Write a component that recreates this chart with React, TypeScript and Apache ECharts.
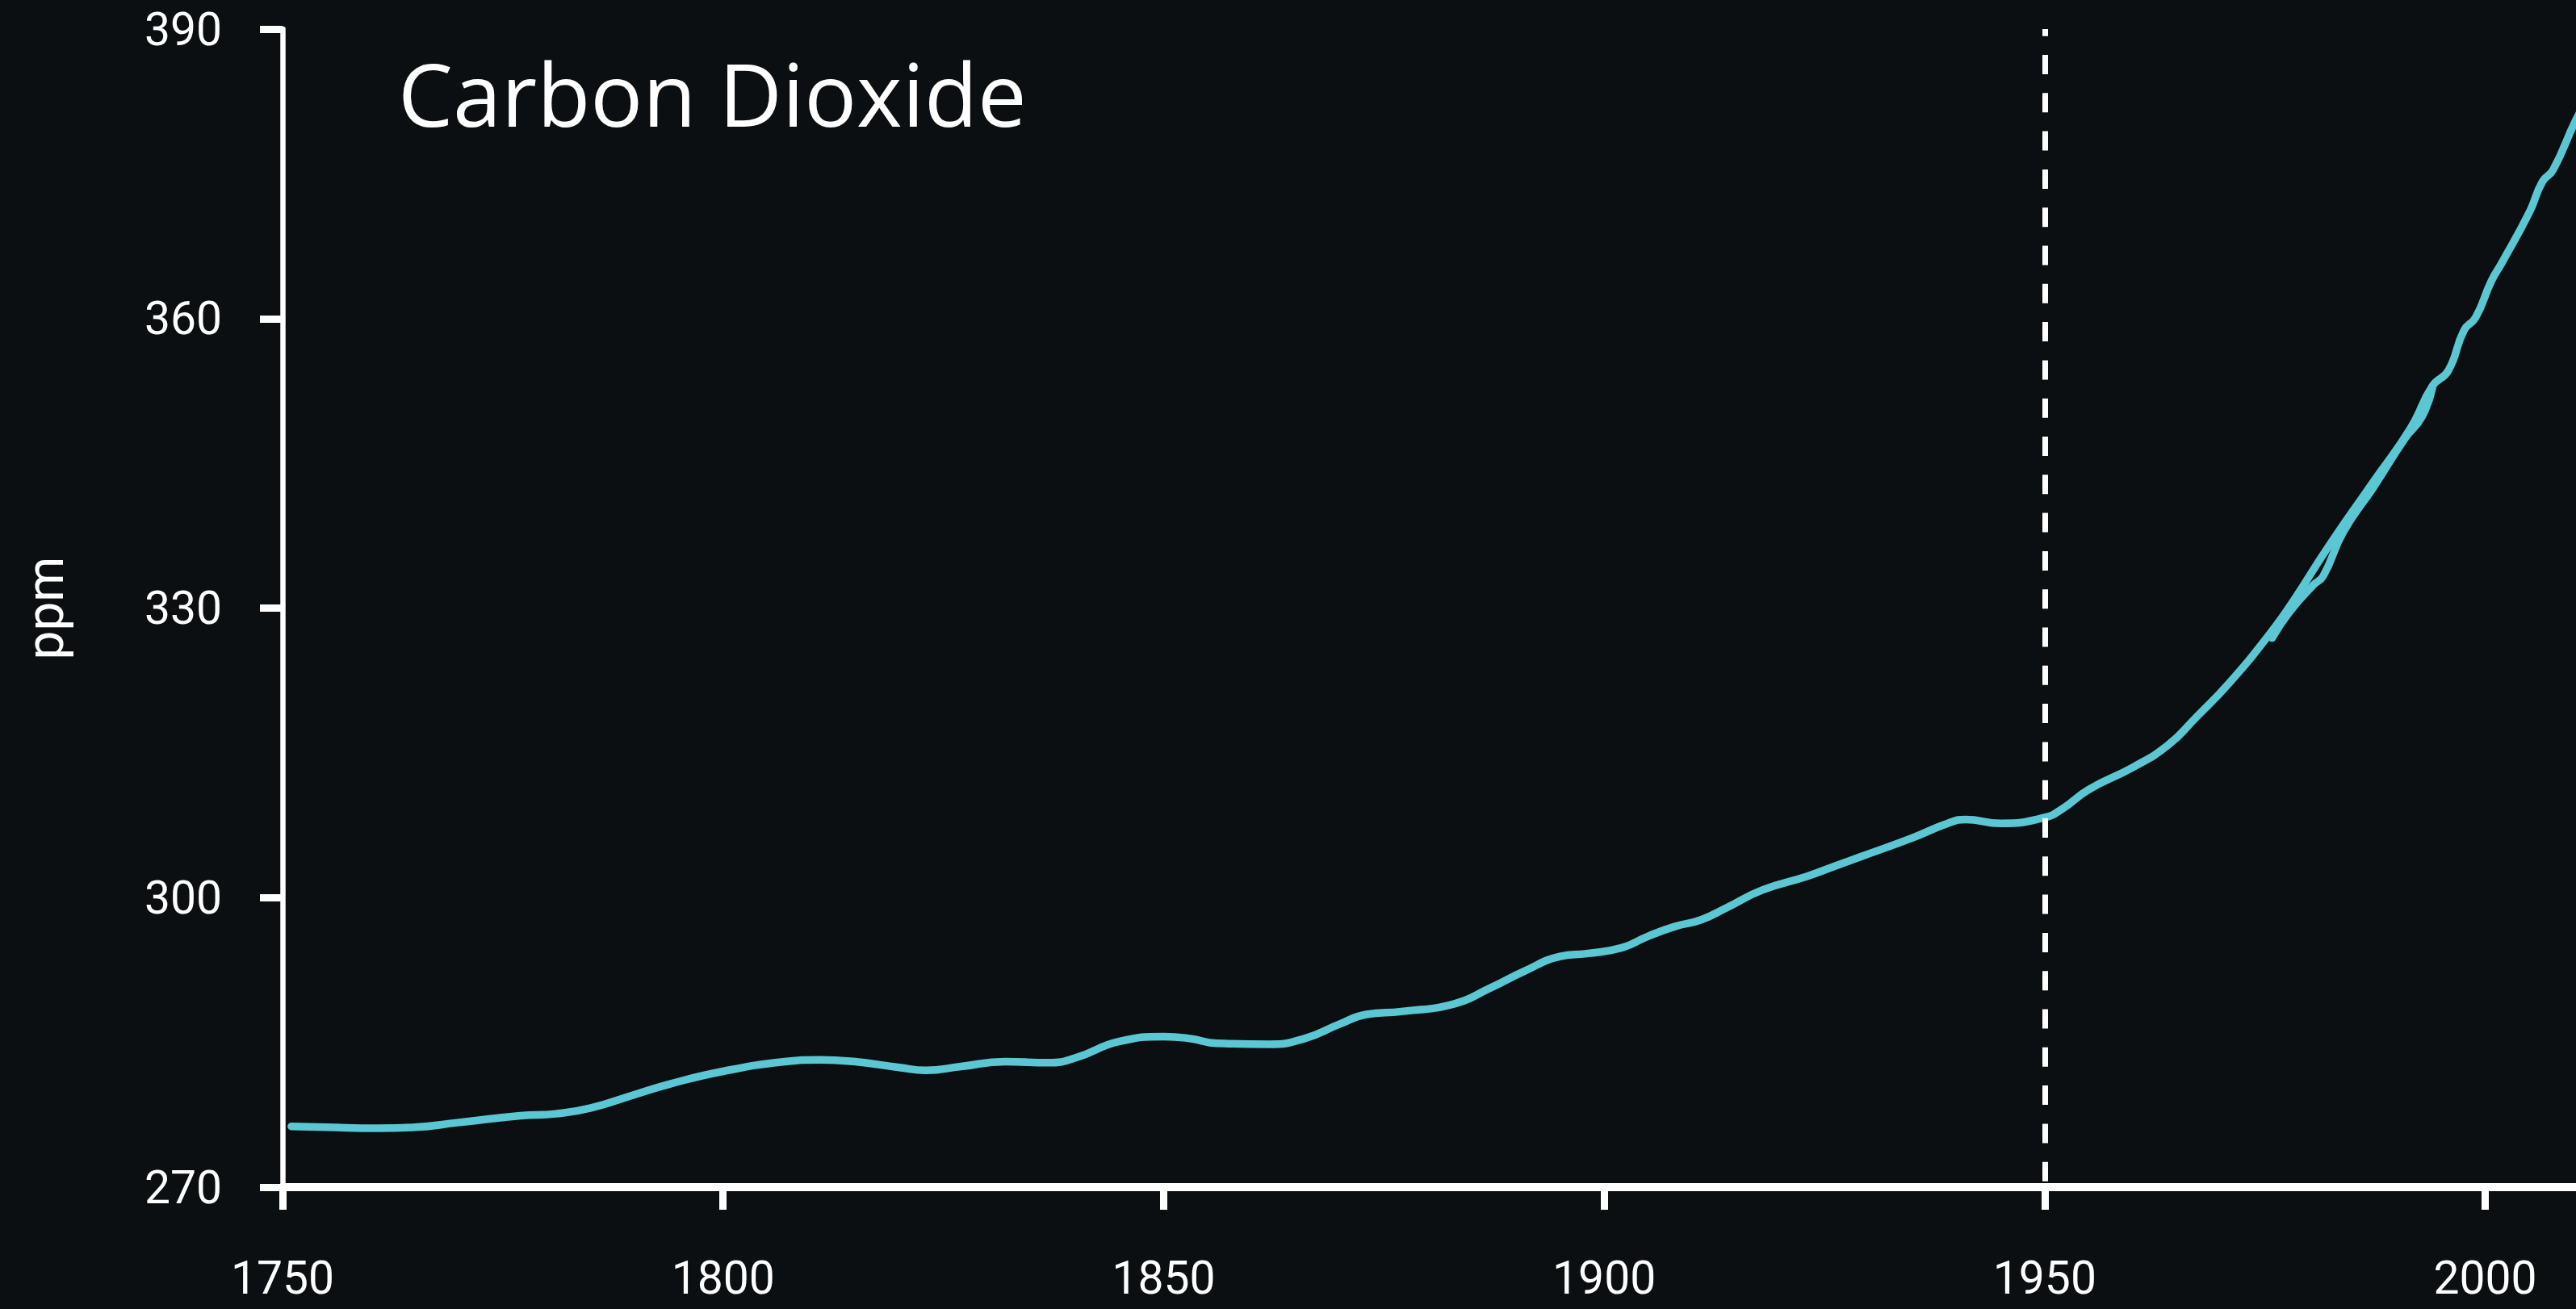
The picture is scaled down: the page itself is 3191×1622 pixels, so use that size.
import React, { useEffect, useRef } from "react";
import * as echarts from "echarts";

// Smoothed ice-core record
const yearsA = [
  1751, 1755, 1761, 1765, 1770, 1777, 1781, 1785, 1790, 1794, 1800, 1807, 1811, 1815, 1820,
  1823, 1827, 1832, 1837, 1840, 1845, 1850, 1853, 1856, 1862, 1866, 1870, 1873, 1877, 1883,
  1887, 1891, 1895, 1898, 1902, 1905, 1908, 1911, 1914, 1918, 1923, 1926, 1929, 1935, 1939,
  1941, 1945, 1950, 1952, 1955, 1960, 1964, 1967, 1971, 1975.6, 1978.4, 1982, 1987.3, 1991.5,
  1994, 1995.8, 1997.6, 1998.9, 2000.7, 2001.9, 2005, 2006.5, 2007.7, 2010.3, 2012,
];
const co2A = [
  276.3, 276.2, 276.1, 276.2, 276.7, 277.4, 277.6, 278.2, 279.6, 280.7, 282.0, 283.0, 283.2, 283.0, 282.4,
  282.1, 282.5, 283.0, 282.9, 283.4, 285.1, 285.6, 285.4, 284.9, 284.8, 285.4, 286.9, 287.9, 288.2, 289.0,
  290.6, 292.4, 293.9, 294.2, 294.8, 296.0, 297.0, 297.7, 299.0, 300.8, 302.2, 303.2, 304.2, 306.2, 307.7,
  308.1, 307.7, 308.3, 309.2, 311.2, 313.5, 315.8, 318.5, 322.3, 327.4, 331.0, 336.1, 343.1, 348.6,
  353.0, 354.6, 358.8, 360.1, 363.9, 365.8, 371.0, 374.2, 375.4, 380.6, 383.4,
];

// Second, overlapping record from the mid-1970s
const yearsB = [1975.8, 1977.7, 1980.5, 1981.6, 1983.9, 1987.3, 1990.9, 1992.8, 1994.0];
const co2B = [326.9, 329.5, 332.4, 333.3, 337.9, 342.5, 347.6, 349.8, 352.8];

const xTickValues = [1750, 1800, 1850, 1900, 1950, 2000];
const yMin = 270;
const yMax = 390;
const yStep = 30;
const xMin = 1750;
const xMax = 2010.3;
const markerYear = 1950;

const title = "Carbon Dioxide";
const yName = "ppm";

const BG = "#0b0f12";
const LINE = "#5bc7d2";
const FONT = "Roboto, 'Liberation Sans', sans-serif";

export default function App() {
  const ref = useRef<HTMLDivElement>(null);

  useEffect(() => {
    if (!ref.current) return;
    const chart = echarts.init(ref.current, null, { renderer: "svg" });
    const dataA = yearsA.map((y, i) => [y, co2A[i]]);
    const dataB = yearsB.map((y, i) => [y, co2B[i]]);

    chart.setOption({
      animation: false,
      backgroundColor: BG,
      title: {
        text: title,
        left: 488,
        top: 56,
        textStyle: {
          color: "#ffffff",
          fontFamily: "'Open Sans', sans-serif",
          fontWeight: 500,
          fontSize: 108,
        },
      },
      grid: { left: 350, right: 0, top: 36, bottom: 151, containLabel: false },
      xAxis: {
        type: "value",
        min: xMin,
        max: xMax,
        splitLine: { show: false },
        axisLine: { show: true, onZero: false, lineStyle: { color: "#ffffff", width: 10 } },
        axisTick: {
          show: true,
          customValues: xTickValues,
          length: 28,
          lineStyle: { color: "#ffffff", width: 9 },
        },
        axisLabel: {
          show: true,
          customValues: xTickValues,
          formatter: (v: number) => String(v),
          color: "#ffffff",
          fontFamily: FONT,
          fontSize: 57,
          margin: 84,
        },
      },
      yAxis: {
        type: "value",
        min: yMin,
        max: yMax,
        interval: yStep,
        name: yName,
        nameLocation: "middle",
        nameGap: 262,
        nameRotate: 90,
        nameTextStyle: { color: "#ffffff", fontFamily: FONT, fontSize: 64 },
        splitLine: { show: false },
        axisLine: { show: true, onZero: false, lineStyle: { color: "#ffffff", width: 6.5 } },
        axisTick: { show: true, length: 28, lineStyle: { color: "#ffffff", width: 9 } },
        axisLabel: {
          formatter: (v: number) => String(v),
          color: "#ffffff",
          fontFamily: FONT,
          fontSize: 57,
          margin: 75,
        },
      },
      series: [
        {
          type: "line",
          data: dataA,
          smooth: 0.5,
          showSymbol: false,
          clip: true,
          lineStyle: { color: LINE, width: 9.5, cap: "round", join: "round" },
          markLine: {
            silent: true,
            symbol: ["none", "none"],
            label: { show: false },
            lineStyle: {
              color: "#ffffff",
              width: 7,
              type: [24, 23.3],
              dashOffset: 40,
            },
            data: [[{ coord: [markerYear, yMin] }, { coord: [markerYear, yMax] }]],
          },
        },
        {
          type: "line",
          data: dataB,
          smooth: 0.5,
          showSymbol: false,
          clip: true,
          lineStyle: { color: LINE, width: 9.5, cap: "round", join: "round" },
        },
      ],
    });

    return () => chart.dispose();
  }, []);

  return (
    <div
      ref={ref}
      style={{ position: "fixed", left: 0, top: 0, width: 3191, height: 1622, background: BG }}
    />
  );
}
